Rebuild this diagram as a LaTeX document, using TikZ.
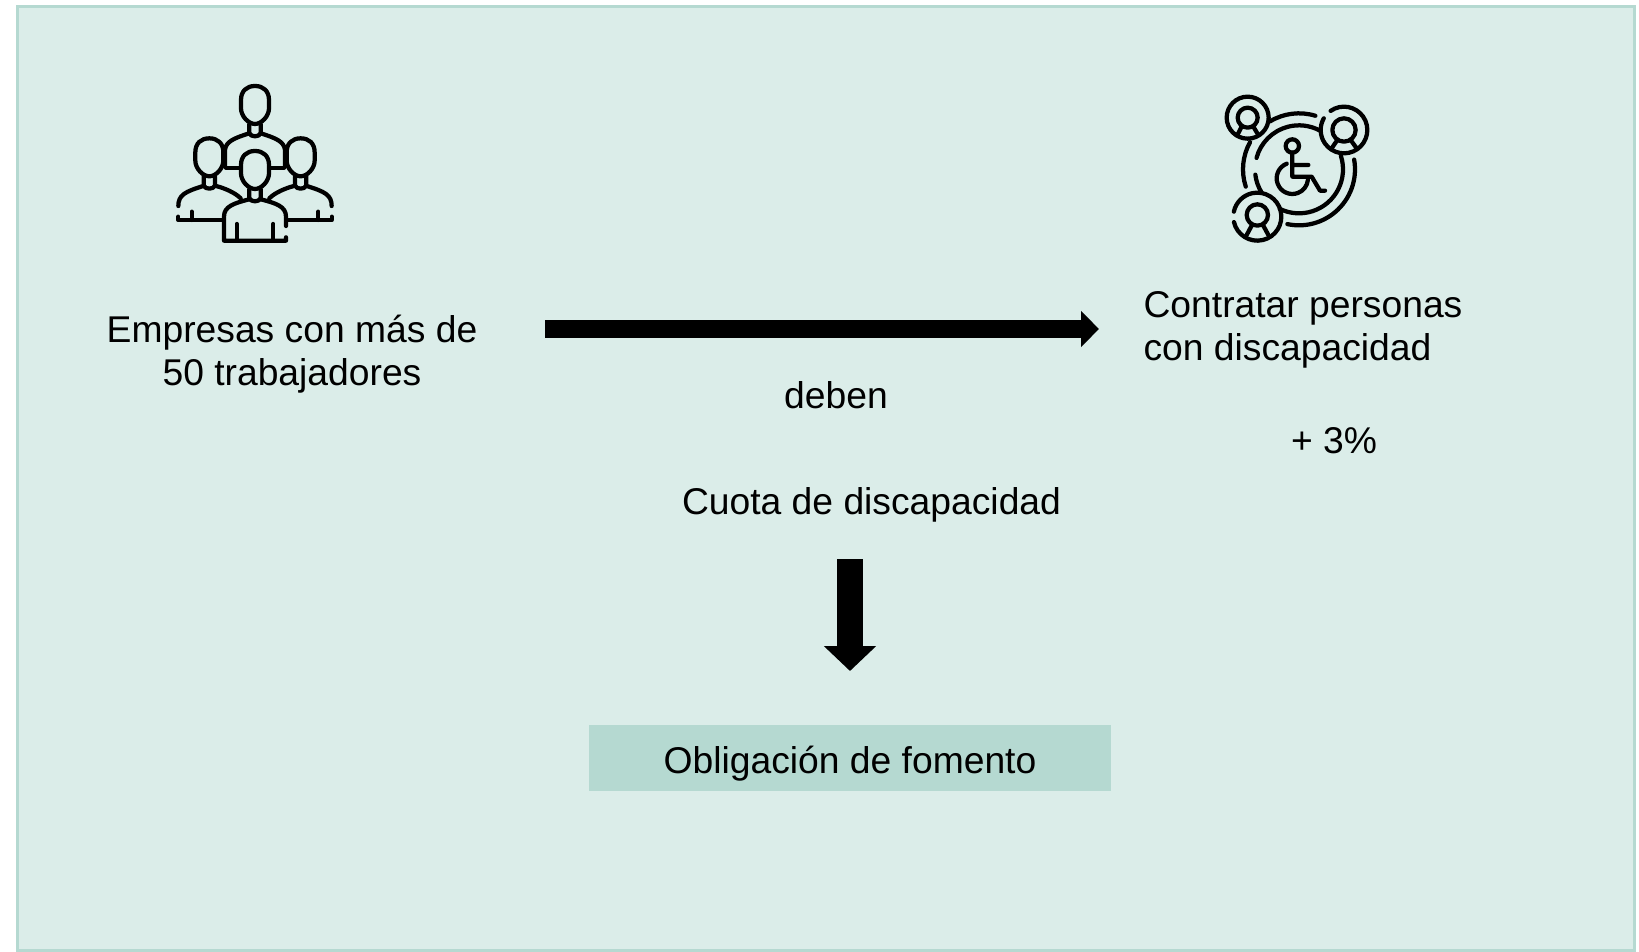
\documentclass[tikz,border=0pt]{standalone}
\usepackage{fontspec}
\setmainfont{Liberation Sans}
\usetikzlibrary{arrows.meta}
\definecolor{panelfill}{HTML}{DBEDE9}
\definecolor{panelline}{HTML}{B5D9D1}
\tikzset{
  textnode/.style={font=\fontsize{21.2}{24.5}\selectfont, inner sep=0pt},
  iconline/.style={line width=0.085cm, line cap=round, line join=round, black},
  headicon/.pic={
    \draw [iconline] (-42,-15) .. controls (-42,-42) and (-25,-57) .. (0,-57)
      .. controls (25,-57) and (42,-42) .. (42,-15) -- (42,10)
      .. controls (42,33) and (20,57) .. (0,57)
      .. controls (-20,57) and (-42,33) .. (-42,10) -- cycle;
    \draw [iconline] (-17,58) -- (-17,85) .. controls (-12,97) and (12,97) .. (17,85) -- (17,58);
  }
}
\begin{document}
\begin{tikzpicture}[x=0.02cm, y=-0.02cm]
  \useasboundingbox (0,0) rectangle (1639,952);
  \draw [line width=0.06cm, panelline, fill=panelfill] (17.5,6.5) rectangle (1634.5,950.5);

  \node [textnode, align=center] (empresas) at (292,354) {Empresas con más de\\50 trabajadores};
  \node [textnode, align=left] (contratar) at (1303,330) {Contratar personas\\con discapacidad};
  \node [textnode] (deben) at (836,395) {deben};
  \node [textnode] (tres) at (1334,441) {+ 3\%};
  \node [textnode] (cuota) at (871.5,505) {Cuota de discapacidad};
  \node [textnode, fill=panelline, minimum width=10.44cm, minimum height=1.32cm, text height=17.6pt, text depth=0pt] (fomento) at (850,758) {Obligación de fomento};

  \coordinate (arrowstart) at (545,329);
  \coordinate (arrowend) at (1099,329);
  \coordinate (downstart) at (850,559);
  \coordinate (downend) at (850,671);
  \draw [line width=0.36cm, -{Triangle[length=0.36cm, width=0.7cm]}] (arrowstart) -- (arrowend);
  \draw [line width=0.52cm, -{Triangle[length=0.5cm, width=1.02cm]}] (downstart) -- (downend);

  % workers
  \begin{scope}[shift={(150,70)}, x=0.00667cm, y=-0.00667cm]
    \draw [iconline] (225,290) -- (225,240) .. controls (228,215) and (250,205) .. (298,190);
    \draw [iconline] (405,290) -- (405,240) .. controls (402,215) and (380,205) .. (332,190);
    \draw [iconline] (228,293) -- (268,293) (362,293) -- (402,293);
    \draw [iconline] (85,408) .. controls (85,375) and (105,365) .. (160,348);
    \draw [iconline] (545,408) .. controls (545,375) and (525,365) .. (470,348);
    \draw [iconline] (198,348) .. controls (225,355) and (255,368) .. (272,385);
    \draw [iconline] (432,348) .. controls (405,355) and (375,368) .. (358,385);
    \draw [iconline] (85,440) -- (85,450) -- (218,450) (125,425) -- (125,450);
    \draw [iconline] (545,440) -- (545,450) -- (412,450) (505,425) -- (505,450);
    \draw [iconline] (298,388) .. controls (250,400) and (222,410) .. (222,440) -- (222,512) -- (408,512) -- (408,502);
    \draw [iconline] (332,388) .. controls (380,400) and (408,410) .. (408,440) -- (408,468);
    \draw [iconline] (260,462) -- (260,512) (370,462) -- (370,512);
    \pic at (315,105) {headicon};
    \pic at (178,262) {headicon};
    \pic at (452,262) {headicon};
    \pic at (315,300) {headicon};
  \end{scope}

  % wheelchair
  \begin{scope}[shift={(1200,80)}, x=0.00667cm, y=-0.00667cm]
    \foreach \a/\b in {195/298, -18/116, 148/173}
      \draw [iconline] (297,268) ++(\a:132) arc (\a:\b:132);
    \foreach \a/\b in {162/209, 239/287, -10/102}
      \draw [iconline] (297,268) ++(\a:168) arc (\a:\b:168);
    \draw [iconline] (143,113) circle (63);
    \draw [iconline] (143,113) circle (30) (112,165) -- (125,140) (175,165) -- (160,140);
    \draw [iconline] (432,150) ++(235:70) arc (235:570:70);
    \draw [iconline] (432,150) circle (35) (395,205) -- (412,180) (470,205) -- (452,180);
    \draw [iconline] (172,410) ++(167:72) arc (167:-168:72);
    \draw [iconline] (172,405) circle (32) (140,465) -- (155,437) (205,465) -- (190,437);
    \draw [iconline] (277,198) circle (20);
    \draw [iconline] (277,218) -- (277,290) -- (335,290) -- (360,332) -- (375,332) (277,255) -- (325,255);
    \draw [iconline] (277,295) ++(249:47) arc (249:6:47);
  \end{scope}
\end{tikzpicture}
\end{document}
